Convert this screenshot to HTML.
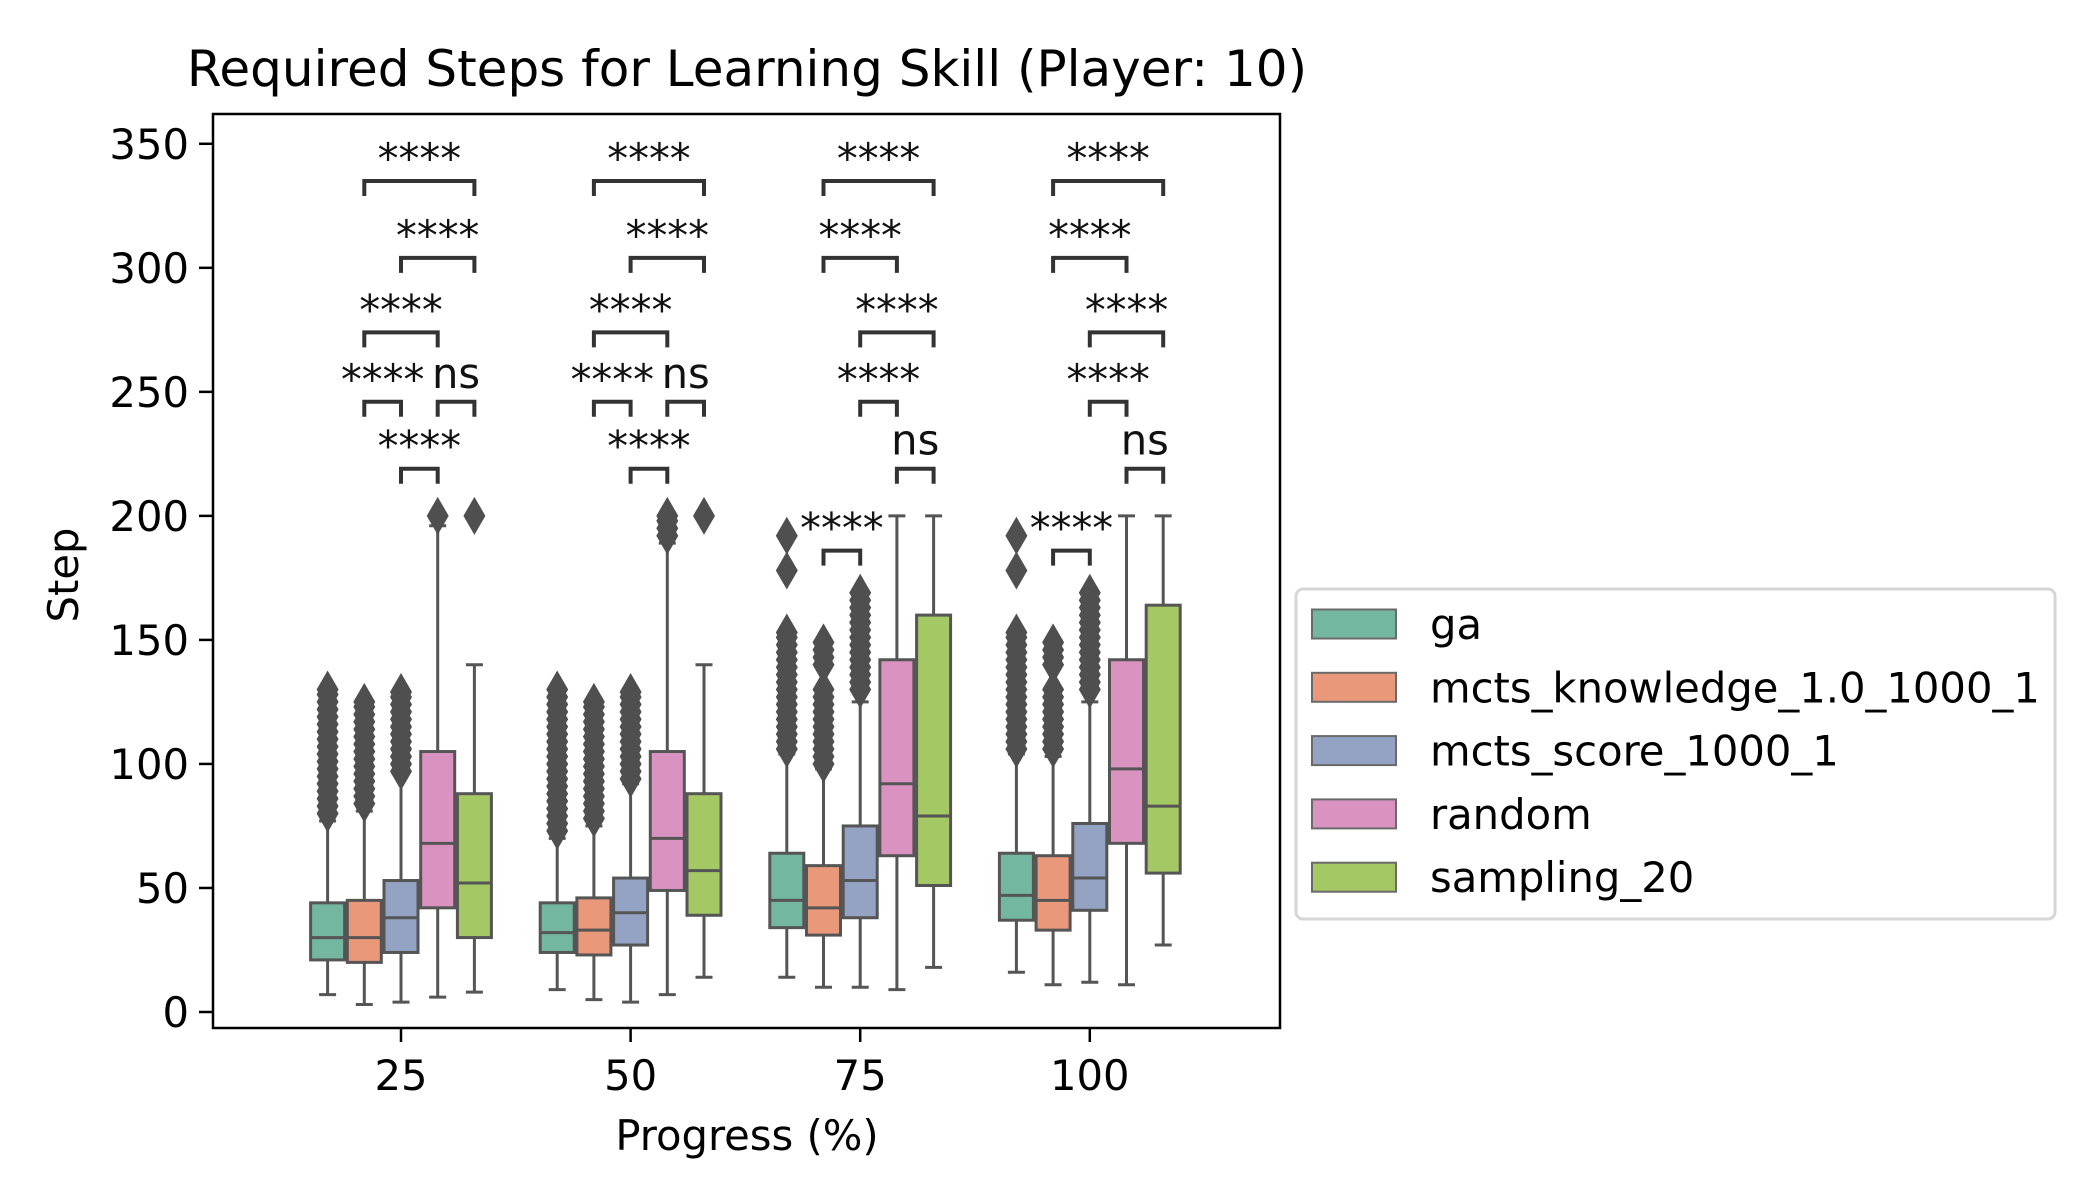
<!DOCTYPE html>
<html><head><meta charset="utf-8"><style>
html,body{margin:0;padding:0;background:#fff;}
svg{display:block;font-family:"DejaVu Sans","Liberation Sans",sans-serif;}
</style></head><body>
<svg id="chart" width="2100" height="1200" viewBox="0 0 2100 1200" xmlns="http://www.w3.org/2000/svg">
<rect x="0" y="0" width="2100" height="1200" fill="#fff"/>
<text x="747" y="86" font-size="50" text-anchor="middle" fill="#000">Required Steps for Learning Skill (Player: 10)</text>
<text transform="translate(78,575) rotate(-90)" font-size="41.7" text-anchor="middle" fill="#000">Step</text>
<text x="747" y="1150" font-size="41.7" text-anchor="middle" fill="#000">Progress (%)</text>
<g id="plot"></g>
<g id="legend"></g>
</svg>
<script>
const categories = ["25","50","75","100"];
const hues = ["ga","mcts_knowledge_1.0_1000_1","mcts_score_1000_1","random","sampling_20"];
const colors = ["#74b7a0","#e9987a","#94a3c4","#da93c1","#a4c964"];
const yTicks = [0,50,100,150,200,250,300,350];
// per category, per hue: [whisker low, q1, median, q3, whisker high]
const stats25 = [[7,21,30,44,77],[3,20,30,45,81],[4,24,38,53,96],[6,42,68,105,196],[8,30,52,88,140]];
const stats50 = [[9,24,32,44,70],[5,23,33,46,75],[4,27,40,54,92],[7,49,70,105,189],[14,39,57,88,140]];
const stats75 = [[14,34,45,64,104],[10,31,42,59,98],[10,38,53,75,125],[9,63,92,142,200],[18,51,79,160,200]];
const stats100 = [[16,37,47,64,104],[11,33,45,63,103],[12,41,54,76,125],[11,68,98,142,200],[27,56,83,164,200]];
const fliers25 = [[80,83,86,89,92,95,98,101,104,107,110,113,116,119,122,125,128,130],[84,87,90,93,96,99,102,105,108,111,114,117,120,123,125],[97,100,103,106,109,112,115,118,121,124,127,129],[200],[200]];
const fliers50 = [[73,76,79,82,85,88,91,94,97,100,103,106,109,112,115,118,121,124,127,130],[78,81,84,87,90,93,96,99,102,105,108,111,114,117,120,123,125],[94,97,100,103,106,109,112,115,118,121,124,127,129],[192,195,198,200],[200]];
const fliers75 = [[106,109,112,115,118,121,124,127,130,133,136,139,142,145,148,151,153,178,192],[100,103,106,109,112,115,118,121,124,127,130,140,143,146,149],[130,133,136,139,142,145,148,151,154,157,160,163,166,169],[],[]];
const fliers100 = [[106,109,112,115,118,121,124,127,130,133,136,139,142,145,148,151,153,178,192],[106,109,112,115,118,121,124,127,130,140,143,146,149],[130,133,136,139,142,145,148,151,154,157,160,163,166,169],[],[]];
const allStats = [stats25,stats50,stats75,stats100];
const allFliers = [fliers25,fliers50,fliers75,fliers100];
// annotations: [hueA, hueB, y value, label]
const annotA = [[2,3,219,"****"],[1,2,246,"****"],[3,4,246,"ns"],[1,3,274,"****"],[2,4,304,"****"],[1,4,335,"****"]];
const annotB = [[1,2,186,"****"],[3,4,219,"ns"],[2,3,246,"****"],[2,4,274,"****"],[1,3,304,"****"],[1,4,335,"****"]];
const allAnnot = [annotA,annotA,annotB,annotB];

const NS="http://www.w3.org/2000/svg";
const L=213,R=1280,T=114,B=1028;
function yS(v){return 1012 - v*2.4806;}
function xS(ci,h){return 401 + ci*229.6 + (h-2)*36.7;}
function mk(tag,attrs,parent){const e=document.createElementNS(NS,tag);for(const k in attrs)e.setAttribute(k,attrs[k]);parent.appendChild(e);return e;}
const plot=document.getElementById('plot');
const gray="#555555";
yTicks.forEach(t=>{
  const y=yS(t);
  const ln=mk('line',{x1:L-14,x2:L,y1:y,y2:y,stroke:"#000","stroke-width":2.5},plot);
  
  
  const tx=mk('text',{x:L-24,y:y+15,"font-size":41.7,"text-anchor":"end",fill:"#000"},plot);
  tx.textContent=t;
  
  
});
categories.forEach((c,ci)=>{
  const x=401+ci*229.6;
  const ln=mk('line',{x1:x,x2:x,y1:B,y2:B+14,stroke:"#000","stroke-width":2.5},plot);
  
  
  const tx=mk('text',{x:x,y:B+62,"font-size":41.7,"text-anchor":"middle",fill:"#000"},plot);
  tx.textContent=c;
  
  
  const st=allStats[ci], fl=allFliers[ci];
  st.forEach((s,h)=>{
    const cx=xS(ci,h), w=34;
    const g=mk('g',{},plot);
    
    
    mk('line',{x1:cx,x2:cx,y1:yS(s[0]),y2:yS(s[1]),stroke:gray,"stroke-width":3},g);
    mk('line',{x1:cx,x2:cx,y1:yS(s[3]),y2:yS(s[4]),stroke:gray,"stroke-width":3},g);
    mk('line',{x1:cx-8.5,x2:cx+8.5,y1:yS(s[0]),y2:yS(s[0]),stroke:gray,"stroke-width":3},g);
    mk('line',{x1:cx-8.5,x2:cx+8.5,y1:yS(s[4]),y2:yS(s[4]),stroke:gray,"stroke-width":3},g);
    mk('rect',{x:cx-w/2,y:yS(s[3]),width:w,height:yS(s[1])-yS(s[3]),fill:colors[h],stroke:gray,"stroke-width":3},g);
    mk('line',{x1:cx-w/2,x2:cx+w/2,y1:yS(s[2]),y2:yS(s[2]),stroke:gray,"stroke-width":3},g);
    fl[h].forEach(v=>{
      const y=yS(v);
      const d=mk('polygon',{points:`${cx},${y-19} ${cx+11},${y} ${cx},${y+19} ${cx-11},${y}`,fill:"#4f4f4f"},g);
      
      
    });
  });
  allAnnot[ci].forEach(a=>{
    const x1=xS(ci,a[0]), x2=xS(ci,a[1]), y=yS(a[2]);
    const p=mk('path',{d:`M${x1},${y+15} L${x1},${y} L${x2},${y} L${x2},${y+15}`,fill:"none",stroke:"#333","stroke-width":4},plot);
    
    
    const tx=mk('text',{x:(x1+x2)/2,y:a[3]==="ns"?y-14:y-8,"font-size":41.7,"text-anchor":"middle",fill:"#111"},plot);
    tx.textContent=a[3];
    
    
  });
});
const fr=mk('rect',{x:L,y:T,width:R-L,height:B-T,fill:"none",stroke:"#000","stroke-width":2.5},plot);


const lg=document.getElementById('legend');
const lb=mk('rect',{x:1296,y:589,width:759,height:330,rx:7,fill:"#fff",stroke:"#d6d6d6","stroke-width":3},lg);


hues.forEach((h,i)=>{
  const cy=624+i*63.3;
  const g=mk('g',{},lg);
  
  
  mk('rect',{x:1312,y:cy-14.5,width:84,height:29,fill:colors[i],stroke:"#6a6a6a","stroke-width":2},g);
  const t=mk('text',{x:1430,y:cy+15,"font-size":41.7,fill:"#000"},g);
  t.textContent=h;
});
</script>
</body></html>
